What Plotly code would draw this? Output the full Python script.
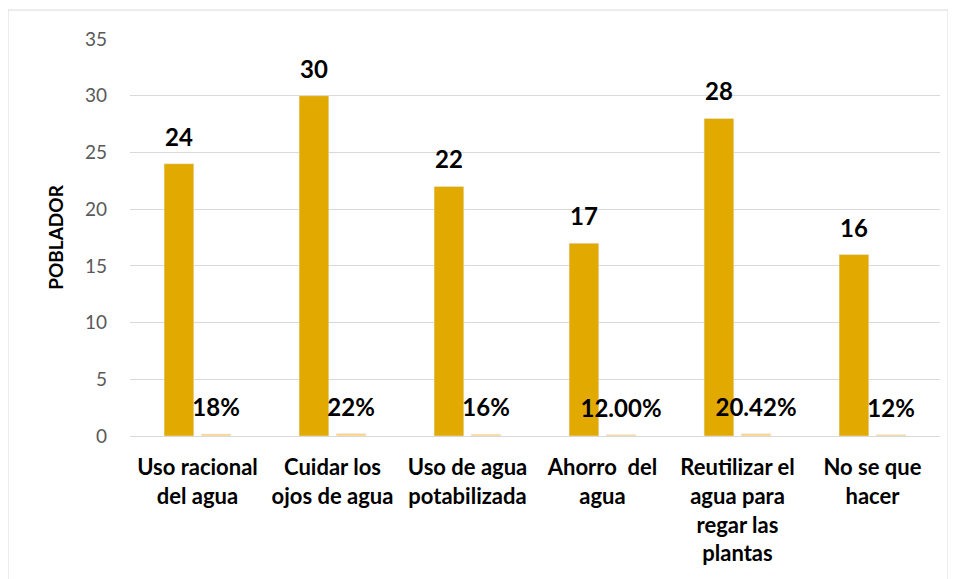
import plotly.graph_objects as go

categories = [
    "Uso racional<br>del agua",
    "Cuidar los<br>ojos de agua",
    "Uso de agua<br>potabilizada",
    "Ahorro  del<br>agua",
    "Reutilizar el<br>agua para<br>regar las<br>plantas",
    "No se que<br>hacer",
]
pobladores = [24, 30, 22, 17, 28, 16]
porcentajes = [0.18, 0.22, 0.16, 0.12, 0.2042, 0.12]
porcentaje_labels = ["18%", "22%", "16%", "12.00%", "20.42%", "12%"]

FONT = "Lato, Carlito, Calibri, sans-serif"
# big bold first line, small blank second line to lift the label off the bar
LABEL_TMPL = "<span style='font-size:24px'><b>%{text}</b></span><br> "

fig = go.Figure()
fig.add_trace(go.Bar(
    x=categories, y=pobladores, name="Pobladores",
    marker=dict(color="#E2A900"),
    text=pobladores, texttemplate=LABEL_TMPL, textposition="outside",
    textfont=dict(size=10, color="black", family=FONT),
    constraintext="none", cliponaxis=False,
))
fig.add_trace(go.Bar(
    x=categories, y=porcentajes, name="%",
    marker=dict(color="#FFD383"),
    text=porcentaje_labels, texttemplate=LABEL_TMPL, textposition="outside",
    textfont=dict(size=10, color="black", family=FONT),
    constraintext="none", cliponaxis=False,
))

fig.update_layout(
    width=948, height=571,
    margin=dict(l=122, r=16, t=31, b=143),
    paper_bgcolor="white", plot_bgcolor="white",
    barmode="group", bargap=0.45, bargroupgap=0.2,
    showlegend=False,
    font=dict(family=FONT),
    shapes=[dict(
        type="rect", xref="paper", yref="paper",
        x0=-0.1506, x1=1.0099, y0=-0.4, y1=1.073,
        line=dict(color="#D9D9D9", width=1), fillcolor="rgba(0,0,0,0)",
        layer="below",
    )],
)
fig.update_xaxes(
    tickfont=dict(size=22, color="black", family=FONT),
    tickprefix="<b>", ticksuffix="</b>",
    showline=True, linecolor="#D9D9D9", linewidth=1,
    ticks="", showgrid=False, ticklabelstandoff=12,
)
fig.update_yaxes(
    range=[0, 35], dtick=5,
    gridcolor="#D9D9D9", gridwidth=1,
    zeroline=False,
    tickfont=dict(size=19, color="#595959", family=FONT),
    ticks="", ticklabelstandoff=22,
    title=dict(text="<b>POBLADOR</b>", font=dict(size=19, color="black", family=FONT), standoff=16),
)

fig.write_html("out.html")
